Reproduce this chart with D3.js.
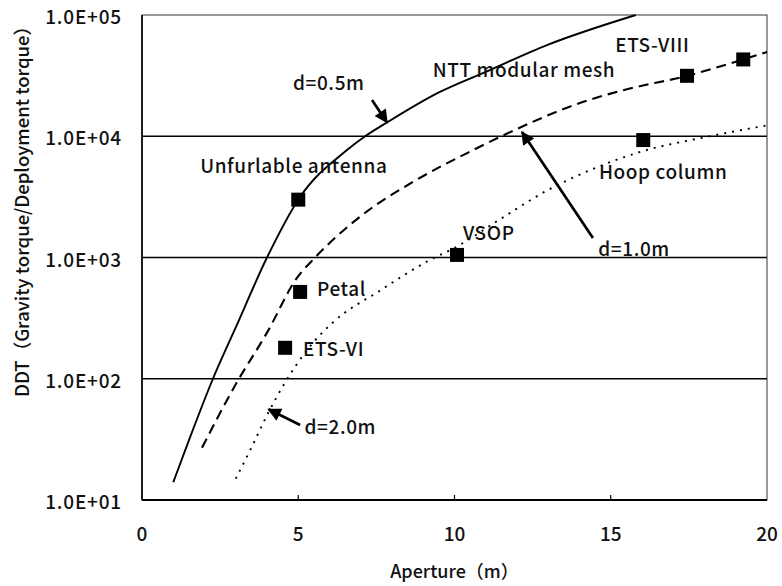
<!DOCTYPE html>
<html>
<head>
<meta charset="utf-8">
<script src="https://cdn.jsdelivr.net/npm/d3@7"></script>
<style>
  body { margin: 0; background: #fff; }
  svg text { font-family: "Noto Sans CJK JP", "Noto Sans", sans-serif; fill: #111; font-weight: 500; }
</style>
</head>
<body>
<svg class="chart" width="782" height="586"></svg>
<script>
// aperture (m) vs DDT
var solidX = [1.0, 1.5, 2.27, 3.0, 4.0, 5.0, 6.56, 7.14, 7.84, 9.5, 11.0, 13.0, 15.8];
var solidY = [14, 31, 100, 265, 1000, 3000, 7700, 10000, 13000, 23000, 34000, 57000, 100000];

var dashX = [1.92, 3.0, 4.0, 4.96, 5.54, 7.2, 8.67, 10.6, 11.5, 14.3, 15.4, 17.44, 19.24, 20.0];
var dashY = [27, 90, 240, 680, 1000, 2400, 4200, 7700, 10000, 19900, 24000, 31500, 43000, 49500];

var dotX = [3.0, 3.5, 4.0, 4.6, 5.3, 6.1, 7.6, 9.2, 10.0, 11.5, 12.9, 14.3, 16.0, 18.0, 20.0];
var dotY = [15, 27, 50, 95, 175, 290, 530, 950, 1200, 2100, 3500, 5200, 7500, 9800, 12300];

// antennas
var antNames = ["Unfurlable antenna", "Petal", "ETS-VI", "VSOP", "Hoop column", "ETS-VIII", "ETS-VIII"];
var antX = [5.0, 5.06, 4.58, 10.08, 16.04, 17.44, 19.24];
var antY = [3000, 520, 180, 1050, 9300, 31500, 43000];

var xTicks = [0, 5, 10, 15, 20];
var yTicks = [1e1, 1e2, 1e3, 1e4, 1e5];
var yTickLabels = ["1.0E+01", "1.0E+02", "1.0E+03", "1.0E+04", "1.0E+05"];

window.onload = function() {
  makeChart();
};

function makeChart() {

var svg = d3.select(".chart");
var left = 142, right = 767, top = 15, bottom = 500;

var x = d3.scaleLinear().domain([0, 20]).range([left, right]);
var y = d3.scaleLog().domain([10, 1e5]).range([bottom, top]);

// grid lines
svg.selectAll(".grid")
    .data([1e2, 1e3, 1e4])
  .enter().append("line")
    .attr("x1", left).attr("x2", right)
    .attr("y1", function(d) { return y(d); })
    .attr("y2", function(d) { return y(d); })
    .attr("stroke", "#000").attr("stroke-width", 1.3);

// frame
svg.append("rect")
    .attr("x", left).attr("y", top)
    .attr("width", right - left).attr("height", bottom - top)
    .attr("fill", "none").attr("stroke", "#333").attr("stroke-width", 1);
svg.append("line").attr("x1", left).attr("x2", left).attr("y1", top).attr("y2", bottom)
    .attr("stroke", "#000").attr("stroke-width", 1.6);
svg.append("line").attr("x1", left).attr("x2", right).attr("y1", bottom).attr("y2", bottom)
    .attr("stroke", "#000").attr("stroke-width", 2.2);

// small inward ticks on x axis
svg.selectAll(".xt")
    .data(xTicks.slice(1, 4))
  .enter().append("line")
    .attr("x1", x).attr("x2", x)
    .attr("y1", bottom).attr("y2", bottom - 5)
    .attr("stroke", "#000").attr("stroke-width", 1.2);

// tick labels
svg.selectAll(".xl")
    .data(xTicks)
  .enter().append("text")
    .attr("x", x)
    .attr("y", bottom + 41)
    .attr("text-anchor", "middle")
    .style("font-size", "19px")
    .text(function(d) { return d; });

svg.selectAll(".yl")
    .data(yTicks)
  .enter().append("text")
    .attr("x", left - 20)
    .attr("y", function(d) { return y(d) + 9; })
    .attr("text-anchor", "end")
    .style("font-size", "19px")
    .style("letter-spacing", "0.8px")
    .text(function(d, i) { return yTickLabels[i]; });

// axis titles
svg.append("text")
    .attr("x", (left + right) / 2)
    .attr("y", 578)
    .attr("text-anchor", "middle")
    .style("font-size", "18px")
    .text("Aperture（m）");

svg.append("text")
    .attr("transform", "translate(29," + 207 + ") rotate(-90)")
    .attr("text-anchor", "middle")
    .style("font-size", "18.5px")
    .text("DDT（Gravity torque/Deployment torque）");

// curves
var line = d3.line()
    .x(function(d) { return x(d[0]); })
    .y(function(d) { return y(d[1]); })
    .curve(d3.curveMonotoneX);

function pairs(xs, ys) { return xs.map(function(v, i) { return [v, ys[i]]; }); }

svg.append("path").attr("d", line(pairs(solidX, solidY)))
    .attr("fill", "none").attr("stroke", "#000").attr("stroke-width", 1.9);
svg.append("path").attr("d", line(pairs(dashX, dashY)))
    .attr("fill", "none").attr("stroke", "#000").attr("stroke-width", 2.1)
    .attr("stroke-dasharray", "10,6");
svg.append("path").attr("d", line(pairs(dotX, dotY)))
    .attr("fill", "none").attr("stroke", "#000").attr("stroke-width", 1.9)
    .attr("stroke-dasharray", "2,6");

// antenna squares
svg.selectAll(".ant")
    .data(antX)
  .enter().append("rect")
    .attr("x", function(d) { return x(d) - 7; })
    .attr("y", function(d, i) { return y(antY[i]) - 7; })
    .attr("width", 14).attr("height", 14)
    .attr("fill", "#000");

// text labels, placed in data units (left x, baseline y)
var notes = [
  ["Unfurlable antenna", 1.86, 4980],
  ["d=0.5m", 4.83, 24050],
  ["NTT modular mesh", 9.3, 30800],
  ["ETS-VIII", 15.14, 49500],
  ["Hoop column", 14.62, 4440],
  ["VSOP", 10.27, 1394],
  ["Petal", 5.6, 481],
  ["ETS-VI", 5.15, 154],
  ["d=1.0m", 14.6, 1030],
  ["d=2.0m", 5.2, 35]
];
svg.selectAll(".note")
    .data(notes)
  .enter().append("text")
    .attr("x", function(d) { return x(d[1]); })
    .attr("y", function(d) { return y(d[2]); })
    .style("font-size", "19px")
    .style("letter-spacing", "0.6px")
    .text(function(d) { return d[0]; });

// arrows: tail -> head
svg.append("defs").append("marker")
    .attr("id", "head")
    .attr("viewBox", "0 0 10 10")
    .attr("refX", 9).attr("refY", 5)
    .attr("markerWidth", 5.5).attr("markerHeight", 5)
    .attr("markerUnits", "strokeWidth")
    .attr("orient", "auto")
  .append("path")
    .attr("d", "M0,0 L10,5 L0,10 z")
    .attr("fill", "#000");

var arrows = [
  [7.36, 19900, 7.84, 13000],
  [14.43, 1449, 12.16, 10840],
  [5.06, 41.6, 4.05, 56]
];
svg.selectAll(".arrow")
    .data(arrows)
  .enter().append("line")
    .attr("x1", function(d) { return x(d[0]); })
    .attr("y1", function(d) { return y(d[1]); })
    .attr("x2", function(d) { return x(d[2]); })
    .attr("y2", function(d) { return y(d[3]); })
    .attr("stroke", "#000").attr("stroke-width", 2.7)
    .attr("marker-end", "url(#head)");

}
</script>
</body>
</html>
